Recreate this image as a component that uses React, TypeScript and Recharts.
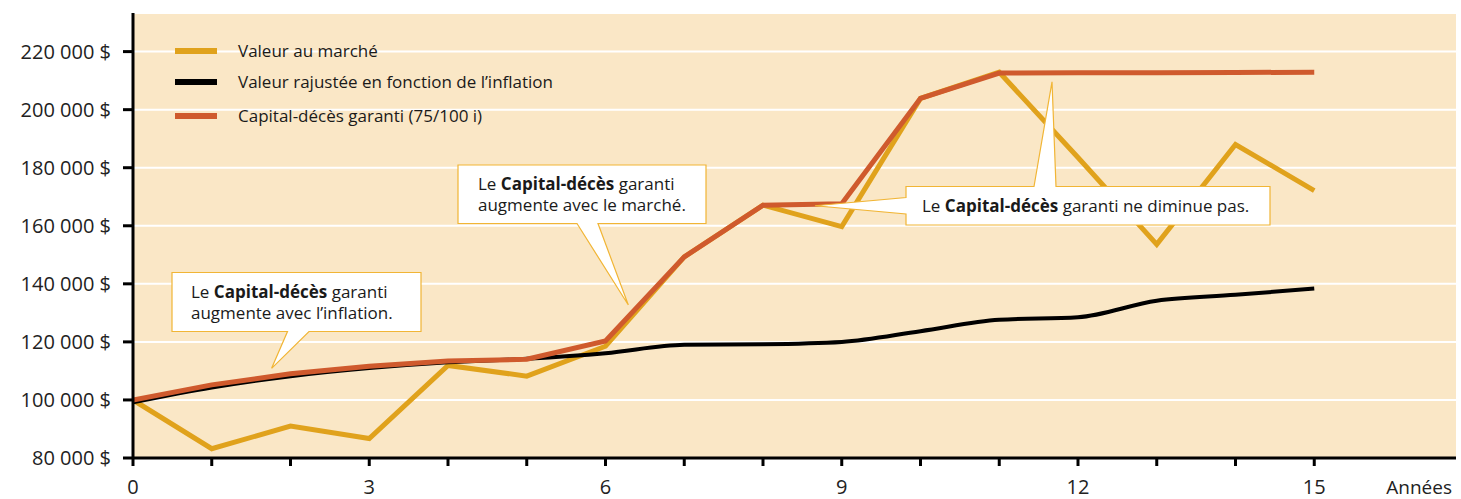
import { LineChart, Line, XAxis, YAxis, CartesianGrid } from "recharts";

const years = [0, 1, 2, 3, 4, 5, 6, 7, 8, 9, 10, 11, 12, 13, 14, 15];
const marketValue = [100000, 83200, 91000, 86700, 111900, 108200, 118500, 149300, 167100, 159700, 203900, 212900, 183500, 153600, 188000, 172100];
const inflationValue = [99200, 104300, 108200, 111000, 113000, 114200, 116100, 119000, 119200, 120000, 123700, 127600, 128500, 134200, 136200, 138400];
const guaranteedValue = [100000, 105200, 109000, 111600, 113400, 114000, 120300, 149300, 167100, 167600, 203900, 212600, 212700, 212700, 212800, 212900];
const yTicks = [80000, 100000, 120000, 140000, 160000, 180000, 200000, 220000];

const seriesNames = [
  "Valeur au marché",
  "Valeur rajustée en fonction de l’inflation",
  "Capital-décès garanti (75/100 i)",
];

const data = years.map((y, i) => ({
  year: y,
  market: marketValue[i],
  inflation: inflationValue[i],
  guaranteed: guaranteedValue[i],
}));

const W = 1461;
const H = 499;
const FONT = "'Open Sans', 'Noto Sans', sans-serif";
const GOLD = "#E0A21C";
const RED = "#CF5A2D";
const BORDER = "#F1B535";

// plot area (matches margins + axis sizes below)
const PL = 133, PT = 13, PR = W - 5, PB = H - 41;
const X_MAX = 16.8, Y_MIN = 80000, Y_MAX = 233300;
const px = (x: number) => PL + (x / X_MAX) * (PR - PL);
const py = (v: number) => PB - ((v - Y_MIN) / (Y_MAX - Y_MIN)) * (PB - PT);

function Overlay() {
  const t1 = { x: px(1.76), y: py(110900) };
  const t2 = { x: px(6.29), y: py(132700) };
  const t3 = { x: px(11.67), y: py(209600) };
  const t4 = { x: px(8.66), y: py(166900) };
  const legendColors = [GOLD, "#000", RED];
  const legendY = [51, 82, 116];
  const txt = { fontFamily: FONT, fontSize: 17, fill: "#1a1a1a" };
  return (
    <svg
      width={W}
      height={H}
      style={{ position: "absolute", left: 0, top: 0, pointerEvents: "none" }}
    >
      {legendColors.map((c, i) => (
        <g key={i}>
          <line x1={175} x2={217} y1={legendY[i]} y2={legendY[i]} stroke={c} strokeWidth={6} />
          <text x={238} y={legendY[i] + 6} {...txt}>{seriesNames[i]}</text>
        </g>
      ))}

      <path
        d={`M172,272.5 H421 V331.5 H309 L${t1.x},${t1.y} L287.5,331.5 H172 Z`}
        fill="#fff" stroke={BORDER} strokeWidth={1.2}
      />
      <text x={191} y={298} {...txt}>Le <tspan fontWeight="bold">Capital-décès</tspan> garanti</text>
      <text x={191} y={319} {...txt}>augmente avec l’inflation.</text>

      <path
        d={`M458,165 H706 V223.5 H598 L${t2.x},${t2.y} L577,223.5 H458 Z`}
        fill="#fff" stroke={BORDER} strokeWidth={1.2}
      />
      <text x={478} y={190} {...txt}>Le <tspan fontWeight="bold">Capital-décès</tspan> garanti</text>
      <text x={478} y={211} {...txt}>augmente avec le marché.</text>

      <path
        d={`M906,186.5 H1034 L${t3.x},${t3.y} L1056,186.5 H1270 V225 H906 V214 L${t4.x},${t4.y} L906,197.5 Z`}
        fill="#fff" stroke={BORDER} strokeWidth={1.2}
      />
      <text x={922} y={212} {...txt}>Le <tspan fontWeight="bold">Capital-décès</tspan> garanti ne diminue pas.</text>

      <text x={1452} y={494} textAnchor="end" fontFamily={FONT} fontSize={19} fill="#222">Années</text>
    </svg>
  );
}

export default function App() {
  return (
    <div style={{ position: "absolute", left: 0, top: 0, width: W, height: H, background: "#fff" }}>
      <LineChart
        width={W}
        height={H}
        data={data}
        margin={{ top: PT, right: 5, left: 0, bottom: 0 }}
        style={{ fontFamily: FONT }}
      >
        <CartesianGrid vertical={false} stroke="#fff" strokeWidth={2} fill="#FAE7C6" fillOpacity={1} />
        <XAxis
          dataKey="year"
          type="number"
          domain={[0, X_MAX]}
          ticks={years}
          tickFormatter={(v) => (v % 3 === 0 ? String(v) : "")}
          height={41}
          axisLine={{ stroke: "#000", strokeWidth: 3 }}
          tickLine={{ stroke: "#000", strokeWidth: 3 }}
          tickSize={8}
          tickMargin={14}
          tick={{ fontSize: 20, fill: "#222" }}
          allowDataOverflow
        />
        <YAxis
          type="number"
          domain={[Y_MIN, Y_MAX]}
          ticks={yTicks}
          tickFormatter={(v) => `${v / 1000} 000 $`}
          width={133}
          axisLine={{ stroke: "#000", strokeWidth: 3 }}
          tickLine={{ stroke: "#000", strokeWidth: 3 }}
          tickSize={10}
          tickMargin={12}
          tick={{ fontSize: 20, fill: "#222" }}
          allowDataOverflow
        />
        <Line type="linear" dataKey="market" stroke={GOLD} strokeWidth={5} dot={false} isAnimationActive={false} />
        <Line type="monotone" dataKey="inflation" stroke="#000" strokeWidth={4} dot={false} isAnimationActive={false} />
        <Line type="linear" dataKey="guaranteed" stroke={RED} strokeWidth={5} dot={false} isAnimationActive={false} />
      </LineChart>
      <Overlay />
    </div>
  );
}
